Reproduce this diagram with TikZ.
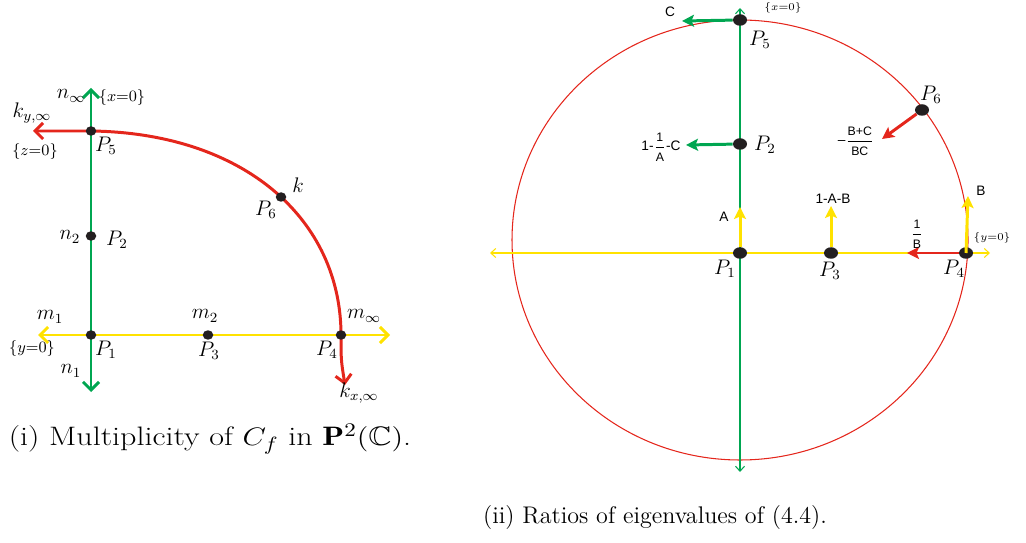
\documentclass[tikz,border=0pt]{standalone}
\usepackage{amsmath, amssymb}
\usepackage{fontspec}
\setsansfont{Liberation Sans}
\usepackage{tikz}
\usetikzlibrary{arrows.meta, positioning, shapes.geometric, backgrounds}

\definecolor{lgreen}{RGB}{0,166,81}
\definecolor{lyellow}{RGB}{255,226,0}
\definecolor{lred}{RGB}{228,38,28}
\definecolor{dotgray}{RGB}{35,31,32}

\newcommand{\ratiofrac}[2]{$\dfrac{\text{\fontsize{7}{8}\selectfont #1}}{\text{\fontsize{7}{8}\selectfont #2}}$}

\begin{document}
\begin{tikzpicture}[
    x=0.02cm, y=0.02cm,
    dot/.style={ellipse, fill=dotgray, inner sep=0pt, minimum width=0.21cm, minimum height=0.19cm},
    bigdot/.style={ellipse, fill=dotgray, inner sep=0pt, minimum width=0.28cm, minimum height=0.23cm},
    lbl/.style={inner sep=0pt, font=\fontsize{12}{14}\selectfont},
    setlbl/.style={inner sep=0pt, font=\fontsize{9}{11}\selectfont},
    smalllbl/.style={inner sep=0pt, font=\fontsize{6.5}{8}\selectfont},
    sflbl/.style={inner sep=0pt, font=\sffamily\fontsize{7.8}{9}\selectfont},
    caption/.style={inner sep=0pt, font=\fontsize{13.7}{16}\selectfont},
    thickline/.style={line width=1.7pt, {Straight Barb[length=1.6mm, width=3.2mm]}-{Straight Barb[length=1.6mm, width=3.2mm]}},
    thinline/.style={line width=0.6pt, {Straight Barb[length=1mm, width=1.8mm]}-{Straight Barb[length=1mm, width=1.8mm]}},
    ratio/.style={line width=1.7pt, -{Stealth[length=2.4mm, width=2.4mm, inset=0.5mm]}}
]
\useasboundingbox (0,0) rectangle (1026,-543);

% (i) multiplicity
\node[dot] (lP5) at (91,-131) {};
\node[dot] (lP2) at (91,-236) {};
\node[dot] (lP1) at (91,-335) {};
\node[dot] (lP3) at (208,-335) {};
\node[dot] (lP4) at (341,-335) {};
\node[dot] (lP6) at (281,-197) {};
\coordinate (ntop) at (91,-88);
\coordinate (nbot) at (91,-392);
\coordinate (mleft) at (38,-335);
\coordinate (mright) at (390,-335);
\coordinate (kyend) at (33,-131);
\coordinate (kxend) at (345,-385);

\begin{scope}[on background layer]
\draw[thickline, lyellow] (mleft) -- (mright);
\draw[thickline, lgreen] (nbot) -- (ntop);
\draw[thickline, lred] (kyend) -- (lP5.center) .. controls (245,-133) and (341,-220) .. (lP4.center) .. controls (341,-360) .. (kxend);
\end{scope}

\node[lbl] (ninf) at (71,-96) {$n_\infty$};
\node[setlbl] (xzero) at (122,-98) {$\{x{=}0\}$};
\node[lbl] (kyinf) at (32,-113) {$k_{y,\infty}$};
\node[setlbl] (zzero) at (35,-152) {$\{z{=}0\}$};
\node[lbl] (lP5lbl) at (106,-146) {$P_5$};
\node[lbl] (n2) at (70,-237) {$n_2$};
\node[lbl] (lP2lbl) at (117,-240) {$P_2$};
\node[lbl] (kcurve) at (298,-185) {$k$};
\node[lbl] (lP6lbl) at (266,-210) {$P_6$};
\node[lbl] (m1) at (50,-317) {$m_1$};
\node[setlbl] (yzero) at (32,-349) {$\{y{=}0\}$};
\node[lbl] (lP1lbl) at (106,-350) {$P_1$};
\node[lbl] (n1) at (71,-371) {$n_1$};
\node[lbl] (m2) at (205,-316) {$m_2$};
\node[lbl] (lP3lbl) at (209,-351) {$P_3$};
\node[lbl] (minf) at (364,-316) {$m_\infty$};
\node[lbl] (lP4lbl) at (327,-350) {$P_4$};
\node[lbl] (kxinf) at (359,-393) {$k_{x,\infty}$};
\node[caption, font=\fontsize{15.2}{18}\selectfont, xscale=1.2, transform shape] (capi) at (210,-439) {(i) Multiplicity of $C_f$ in $\mathbf{P}^2(\mathbb{C})$.};

% (ii) ratios of eigenvalues
\node[bigdot] (rP5) at (740,-20) {};
\node[bigdot] (rP2) at (740,-144) {};
\node[bigdot] (rP1) at (740,-253) {};
\node[bigdot] (rP3) at (831,-253) {};
\node[bigdot] (rP4) at (966,-253) {};
\node[bigdot] (rP6) at (922,-110) {};
\coordinate (gtop) at (740,-8);
\coordinate (gbot) at (740,-472);
\coordinate (yleft) at (490,-253);
\coordinate (yright) at (990,-253);
\coordinate (endC) at (682,-21);
\coordinate (endAC) at (686,-145);
\coordinate (endA) at (740,-207);
\coordinate (endAB) at (831,-206);
\coordinate (endB) at (968,-196);
\coordinate (endinvB) at (907,-253);
\coordinate (endBC) at (882,-139);

\begin{scope}[on background layer]
\draw[lred, line width=0.6pt] (740,-240) ellipse [x radius=228, y radius=220];
\draw[thinline, lyellow] (yleft) -- (yright);
\draw[thinline, lgreen] (gbot) -- (gtop);
\end{scope}

\draw[ratio, lgreen] (rP5) -- (endC);
\draw[ratio, lgreen] (rP2) -- (endAC);
\draw[ratio, lyellow] (rP1) -- (endA);
\draw[ratio, lyellow] (rP3) -- (endAB);
\draw[ratio, lyellow] (rP4.center) -- (endB);
\draw[ratio, lred] (rP4) -- (endinvB);
\draw[ratio, lred] (rP6) -- (endBC);

\node[sflbl] (lblC) at (670,-12) {C};
\node[smalllbl] (rxzero) at (783,-8) {$\{x{=}0\}$};
\node[lbl] (rP5lbl) at (760,-40) {$P_5$};
\node[sflbl] (lblAC) at (661,-147) {1-\ratiofrac{1}{A}-C};
\node[lbl] (rP2lbl) at (765,-145) {$P_2$};
\node[sflbl] (lblA) at (724,-217) {A};
\node[sflbl] (lblAB) at (833,-199) {1-A-B};
\node[lbl] (rP1lbl) at (725,-269) {$P_1$};
\node[lbl] (rP3lbl) at (830,-271) {$P_3$};
\node[sflbl] (lblBC) at (856,-141) {–\ratiofrac{B+C}{BC}};
\node[lbl] (rP6lbl) at (931,-95) {$P_6$};
\node[sflbl] (lblB) at (981,-191) {B};
\node[sflbl] (lblinvB) at (917,-234) {\ratiofrac{1}{B}};
\node[smalllbl] (ryzero) at (992,-238) {$\{y{=}0\}$};
\node[lbl] (rP4lbl) at (954,-269) {$P_4$};
\node[caption] (capii) at (655,-517) {(ii) Ratios of eigenvalues of (4.4).};

\end{tikzpicture}
\end{document}
